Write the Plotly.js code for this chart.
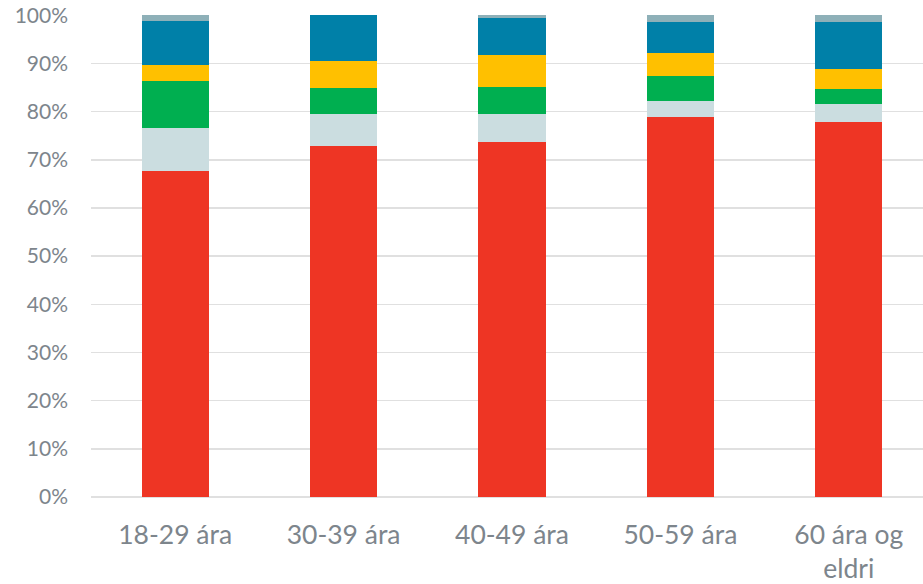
<!DOCTYPE html>
<html>
<head>
<meta charset="utf-8">
<script src="https://cdn.plot.ly/plotly-3.0.1.min.js"></script>
<style>html,body{margin:0;padding:0;background:#fff;}#chart{width:923px;height:584px;}</style>
</head>
<body>
<div id="chart"></div>
<script>
const categories = ["18-29 ára", "30-39 ára", "40-49 ára", "50-59 ára", "60 ára og<br>eldri"];
const series1 = [0.677, 0.729, 0.736, 0.789, 0.779]; // red
const series2 = [0.088, 0.067, 0.058, 0.032, 0.037]; // light
const series3 = [0.098, 0.054, 0.057, 0.053, 0.031]; // green
const series4 = [0.033, 0.056, 0.067, 0.048, 0.041]; // yellow
const series5 = [0.093, 0.094, 0.076, 0.063, 0.099]; // blue
const series6 = [0.011, 0.000, 0.006, 0.015, 0.013]; // gray

const seriesList = [series1, series2, series3, series4, series5, series6];
const colors = ["#EE3524", "#CBDDE0", "#00AF50", "#FFC000", "#0080A8", "#8EB0B8"];

const traces = seriesList.map((vals, i) => ({
  type: "bar",
  x: categories,
  y: vals,
  marker: {color: colors[i], line: {width: 0}},
  hoverinfo: "skip",
  showlegend: false
}));

const fontFam = "Lato, 'Open Sans', sans-serif";
const layout = {
  width: 923, height: 584,
  margin: {l: 91, r: 0, t: 15, b: 87, pad: 0},
  paper_bgcolor: "#fff", plot_bgcolor: "#fff",
  barmode: "stack",
  bargap: 0.6,
  showlegend: false,
  xaxis: {
    type: "category",
    range: [-0.5, 4.441],
    showgrid: false, zeroline: false, showline: false, ticks: "",
    tickfont: {family: fontFam, size: 26.5, color: "#7D858C"},
    ticklabelstandoff: 19
  },
  yaxis: {
    range: [0, 1.0005],
    tickvals: [0, 0.1, 0.2, 0.3, 0.4, 0.5, 0.6, 0.7, 0.8, 0.9, 1.0],
    ticktext: ["0%","10%","20%","30%","40%","50%","60%","70%","80%","90%","100%"],
    showgrid: true, gridcolor: "#E0E0E0", gridwidth: 1.5,
    zeroline: true, zerolinecolor: "#E0E0E0", zerolinewidth: 1.5,
    showline: false, ticks: "",
    tickfont: {family: fontFam, size: 21, color: "#7D858C"},
    ticklabelstandoff: 22
  }
};

Plotly.newPlot("chart", traces, layout, {displayModeBar: false, staticPlot: true});
</script>
</body>
</html>
